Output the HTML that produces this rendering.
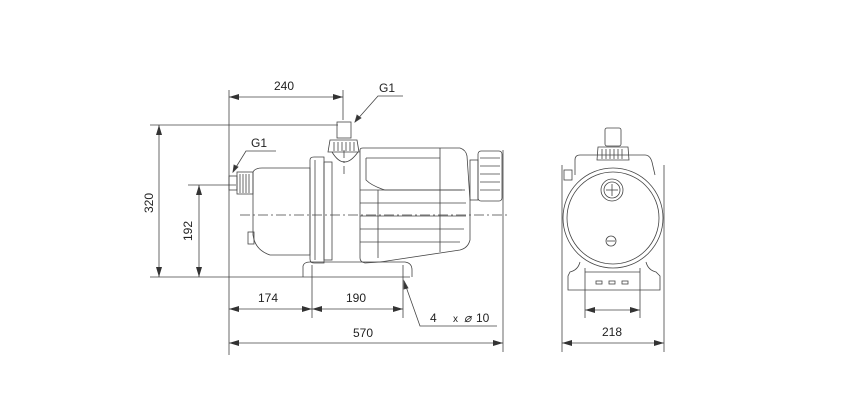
<!DOCTYPE html>
<html><head><style>
html,body{margin:0;padding:0;background:#fff;}
svg{display:block;}
text{font-family:"Liberation Sans",sans-serif;font-size:12px;fill:#222;}
</style></head><body>
<svg width="848" height="400" viewBox="0 0 848 400" xmlns="http://www.w3.org/2000/svg">
<defs>
<marker id="a" viewBox="0 0 10 6" refX="10" refY="3" markerWidth="10" markerHeight="6" orient="auto-start-reverse" markerUnits="userSpaceOnUse"><path d="M0,0L10,3L0,6z" fill="#333"/></marker>
</defs>
<g stroke="#444" stroke-width="0.8" fill="none">
<!-- extension lines -->
<line x1="229" y1="90" x2="229" y2="355"/>
<line x1="343" y1="90" x2="343" y2="120"/>
<line x1="150" y1="125" x2="338" y2="125"/>
<line x1="150" y1="277" x2="410" y2="277"/>
<line x1="188" y1="185" x2="236" y2="185"/>
<line x1="312" y1="265" x2="312" y2="318"/>
<line x1="403" y1="265" x2="403" y2="318"/>
<line x1="503" y1="150" x2="503" y2="352"/>
<!-- dimension lines -->
<line x1="229" y1="97" x2="343" y2="97" marker-start="url(#a)" marker-end="url(#a)"/>
<line x1="159" y1="125" x2="159" y2="277" marker-start="url(#a)" marker-end="url(#a)"/>
<line x1="199" y1="185" x2="199" y2="277" marker-start="url(#a)" marker-end="url(#a)"/>
<line x1="229" y1="309" x2="312" y2="309" marker-start="url(#a)" marker-end="url(#a)"/>
<line x1="312" y1="309" x2="403" y2="309" marker-start="url(#a)" marker-end="url(#a)"/>
<line x1="229" y1="343" x2="503" y2="343" marker-start="url(#a)" marker-end="url(#a)"/>
<!-- leaders -->
<polyline points="403,96 378,96 355,122" /><path d="M355,122l2,-7l4,3z" fill="#333"/>
<polyline points="276,151 246,151 233,172" /><path d="M233,172l1,-7l4,2z" fill="#333"/>
<polyline points="497,326 420,326 404,281" /><path d="M404,281l4,7l-4,1z" fill="#333"/>
<!-- centerlines -->
<line x1="240" y1="215" x2="510" y2="215" stroke-dasharray="10,3,2,3"/>
<line x1="344" y1="150" x2="344" y2="175" stroke-dasharray="8,3,2,3"/>
<!-- inlet -->
<rect x="229" y="176" width="8" height="14"/>
<rect x="237" y="172" width="16" height="22"/>
<line x1="240" y1="174" x2="240" y2="193"/><line x1="243" y1="174" x2="243" y2="193"/><line x1="246" y1="174" x2="246" y2="193"/><line x1="249" y1="174" x2="249" y2="193"/>
<!-- pump casing -->
<path d="M253,172 Q255,168 262,168 L310,168 L310,255 L270,255 Q255,250 253,235 Z"/>
<rect x="248" y="232" width="6" height="12"/>
<path d="M310,160 Q310,157 314,157 L324,157 L324,263 L314,263 Q310,263 310,259 Z"/>
<line x1="315" y1="160" x2="315" y2="260"/>
<rect x="324" y="162" width="8" height="98"/>
<!-- top port -->
<rect x="337" y="122" width="14" height="16"/>
<path d="M330,140 L357,140 L359,152 L328,152 Z"/>
<line x1="334" y1="142" x2="334" y2="151"/><line x1="338" y1="142" x2="338" y2="151"/><line x1="342" y1="142" x2="342" y2="151"/><line x1="346" y1="142" x2="346" y2="151"/><line x1="350" y1="142" x2="350" y2="151"/><line x1="354" y1="142" x2="354" y2="151"/>
<path d="M332,152 Q344,172 358,152"/>
<!-- motor -->
<path d="M360,150 Q360,148 363,148 L460,148 Q466,150 467,156 L470,200 L470,240 Q468,248 460,250 L380,262 L365,263 Q360,262 360,258 Z"/>
<line x1="366" y1="158" x2="440" y2="158"/>
<line x1="440" y1="148" x2="440" y2="252"/>
<path d="M366,158 L366,180 Q372,186 385,190 L465,190"/>
<line x1="360" y1="190" x2="462" y2="190"/>
<line x1="360" y1="203" x2="466" y2="203"/>
<line x1="360" y1="216" x2="466" y2="216"/>
<line x1="360" y1="229" x2="464" y2="229"/>
<line x1="360" y1="242" x2="460" y2="242"/>
<line x1="378" y1="190" x2="378" y2="258"/>
<!-- fan cap -->
<rect x="470" y="160" width="8" height="40"/>
<rect x="478" y="151" width="24" height="50" rx="3"/>
<line x1="480" y1="158" x2="500" y2="158"/><line x1="480" y1="166" x2="500" y2="166"/><line x1="480" y1="174" x2="500" y2="174"/><line x1="480" y1="182" x2="500" y2="182"/><line x1="480" y1="190" x2="500" y2="190"/>
<!-- base -->
<path d="M303,277 L303,266 Q304,262 310,262 L405,262 Q412,263 412,270 L412,277"/>
<!-- side view -->
<line x1="562" y1="165" x2="562" y2="352"/>
<line x1="664" y1="165" x2="664" y2="352"/>
<line x1="585" y1="268" x2="585" y2="318"/>
<line x1="640" y1="268" x2="640" y2="318"/>
<line x1="585" y1="310" x2="640" y2="310" marker-start="url(#a)" marker-end="url(#a)"/>
<line x1="562" y1="343" x2="664" y2="343" marker-start="url(#a)" marker-end="url(#a)"/>
<rect x="605" y="128" width="16" height="18" rx="2"/>
<path d="M598,147 L628,147 L629,160 L597,160 Z"/>
<line x1="602" y1="149" x2="602" y2="159"/><line x1="606" y1="149" x2="606" y2="159"/><line x1="610" y1="149" x2="610" y2="159"/><line x1="614" y1="149" x2="614" y2="159"/><line x1="618" y1="149" x2="618" y2="159"/><line x1="622" y1="149" x2="622" y2="159"/>
<path d="M575,175 L575,160 Q575,155 580,155 L645,155 Q650,155 652,162 L655,175"/>
<rect x="564" y="170" width="8" height="10"/>
<circle cx="613" cy="218" r="50"/>
<circle cx="613" cy="218" r="46"/>
<circle cx="612" cy="190" r="11"/><circle cx="612" cy="190" r="8"/>
<line x1="606" y1="190" x2="618" y2="190"/><line x1="612" y1="184" x2="612" y2="196"/>
<circle cx="611" cy="241" r="5"/><line x1="607" y1="241" x2="615" y2="241"/>
<path d="M580,262 Q578,270 570,272 L568,276 L568,290 L660,290 L660,276 L656,272 Q648,270 646,262"/>
<line x1="585" y1="272" x2="640" y2="272"/>
<rect x="596" y="281" width="6" height="3"/><rect x="609" y="281" width="6" height="3"/><rect x="622" y="281" width="6" height="3"/>
</g>
<text x="274" y="90">240</text>
<text x="379" y="92">G1</text>
<text x="251" y="147">G1</text>
<text x="258" y="302">174</text>
<text x="346" y="302">190</text>
<text x="430" y="322">4</text>
<text x="453" y="322" style="font-size:10px">x</text>
<text x="464" y="322" style="font-style:italic">⌀</text>
<text x="476" y="322">10</text>
<text x="353" y="337">570</text>
<text x="602" y="336">218</text>
<text transform="translate(153,213) rotate(-90)">320</text>
<text transform="translate(192,241) rotate(-90)">192</text>
</svg>
</body></html>
